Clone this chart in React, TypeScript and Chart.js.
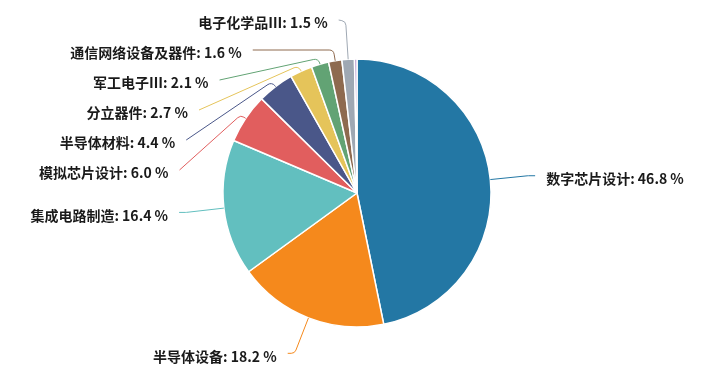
import React, { useEffect, useRef } from 'react';
import { Chart, registerables } from 'chart.js';

Chart.register(...registerables);

// ---- data ----
const categories = [
  '数字芯片设计',
  '半导体设备',
  '集成电路制造',
  '模拟芯片设计',
  '半导体材料',
  '分立器件',
  '军工电子Ⅲ',
  '通信网络设备及器件',
  '电子化学品Ⅲ',
  '其他',
];
const shares = [46.8, 18.2, 16.4, 6.0, 4.4, 2.7, 2.1, 1.6, 1.5, 0.3];
const showLabel = [true, true, true, true, true, true, true, true, true, false];
const colors = [
  '#2377a4',
  '#f5891c',
  '#62bfbf',
  '#e15e5e',
  '#4a5789',
  '#e5c45a',
  '#62a374',
  '#8e6a4f',
  '#9fa8b3',
  '#b594cd',
];

// ---- label layout params ----
const LEN = 38;
const LEN2 = 7;
const MIN_LEN = 6;
const GAP = 11;
const SPACING = 30;
const TOP_Y = 20;
const BOTTOM_Y = 360;
const FONT = 'bold 14px "Noto Sans CJK SC", "Noto Sans", sans-serif';

type Item = {
  i: number;
  cx: number;
  cy: number;
  r: number;
  cos: number;
  sin: number;
  side: number;
  natY: number;
  labelY: number;
  p2x: number;
};

function spread(list: Item[]) {
  list.sort((a, b) => a.natY - b.natY);
  type Cl = { items: Item[]; sum: number; top: number };
  const place = (c: Cl) => {
    const n = c.items.length;
    let top = c.sum / n - ((n - 1) * SPACING) / 2;
    top = Math.min(top, BOTTOM_Y - (n - 1) * SPACING);
    top = Math.max(top, TOP_Y);
    c.top = top;
  };
  const clusters: Cl[] = list.map((it) => ({ items: [it], sum: it.natY, top: 0 }));
  clusters.forEach(place);
  let merged = true;
  while (merged) {
    merged = false;
    for (let k = 0; k < clusters.length - 1; k++) {
      const a = clusters[k];
      const b = clusters[k + 1];
      const aBottom = a.top + (a.items.length - 1) * SPACING;
      if (b.top - aBottom < SPACING) {
        a.items.push(...b.items);
        a.sum += b.sum;
        place(a);
        clusters.splice(k + 1, 1);
        merged = true;
        break;
      }
    }
  }
  clusters.forEach((c) => c.items.forEach((it, j) => (it.labelY = c.top + j * SPACING)));
}

const labelPlugin = {
  id: 'pieOutsideLabels',
  afterDatasetsDraw(chart: any) {
    const ctx = chart.ctx as CanvasRenderingContext2D;
    const meta = chart.getDatasetMeta(0);
    const total = shares.reduce((s, v) => s + v, 0);
    const items: Item[] = [];
    meta.data.forEach((arc: any, i: number) => {
      if (!showLabel[i]) return;
      const p = arc.getProps(['x', 'y', 'startAngle', 'endAngle', 'outerRadius'], true);
      const mid = (p.startAngle + p.endAngle) / 2;
      const cos = Math.cos(mid);
      const sin = Math.sin(mid);
      items.push({
        i,
        cx: p.x,
        cy: p.y,
        r: p.outerRadius,
        cos,
        sin,
        side: cos >= 0 ? 1 : -1,
        natY: p.y + (p.outerRadius + LEN) * sin,
        labelY: 0,
        p2x: 0,
      });
    });

    for (const side of [-1, 1]) {
      const sideItems = items.filter((it) => it.side === side);
      if (!sideItems.length) continue;
      spread(sideItems);
      const cy = sideItems[0].cy;
      const cx = sideItems[0].cx;
      const rA = sideItems[0].r + LEN;
      for (const top of [true, false]) {
        const list = sideItems.filter((it) => (top ? it.labelY <= cy : it.labelY > cy));
        if (!list.length) continue;
        const far = list.reduce((a, b) => (Math.abs(b.labelY - cy) > Math.abs(a.labelY - cy) ? b : a));
        const dyF = Math.abs(far.labelY - cy);
        const dxF = Math.abs(far.cos) * rA;
        let rB = dxF < rA ? dyF / Math.sqrt(1 - (dxF * dxF) / (rA * rA)) : rA;
        if (!(rB > 1)) rB = rA;
        list.forEach((it) => {
          const dy = Math.abs(it.labelY - cy);
          const dx = rA * Math.sqrt(Math.max(0, 1 - (dy * dy) / (rB * rB)));
          it.p2x = cx + side * (dx + LEN2);
        });
      }
    }

    ctx.save();
    ctx.font = FONT;
    ctx.textBaseline = 'middle';
    items.forEach((it) => {
      const p0x = it.cx + it.r * it.cos;
      const p0y = it.cy + it.r * it.sin;
      let d = LEN;
      if (Math.abs(it.sin) > 1e-3) {
        const need = (it.labelY - p0y) / it.sin;
        d = need <= 0 ? MIN_LEN : Math.max(MIN_LEN, Math.min(LEN, need));
      }
      const p1x = it.cx + (it.r + d) * it.cos;
      const p1y = it.cy + (it.r + d) * it.sin;
      ctx.strokeStyle = colors[it.i];
      ctx.lineWidth = 1;
      ctx.beginPath();
      ctx.moveTo(p0x, p0y);
      ctx.arcTo(p1x, p1y, it.p2x, it.labelY, 5);
      ctx.lineTo(it.p2x, it.labelY);
      ctx.stroke();

      const pct = ((shares[it.i] / total) * 100).toFixed(1);
      ctx.fillStyle = '#1a1a1a';
      ctx.textAlign = it.side < 0 ? 'right' : 'left';
      ctx.fillText(`${categories[it.i]}: ${pct} %`, it.p2x + it.side * GAP, it.labelY + 3);
    });
    ctx.restore();
  },
};

export default function App() {
  const ref = useRef<HTMLCanvasElement | null>(null);
  useEffect(() => {
    document.body.style.margin = '0';
    const canvas = ref.current!;
    const chart = new Chart(canvas, {
      type: 'pie',
      data: {
        labels: categories,
        datasets: [
          {
            data: shares,
            backgroundColor: colors,
            borderColor: '#ffffff',
            borderWidth: 1.5,
            radius: 134,
          } as any,
        ],
      },
      options: {
        animation: false,
        responsive: false,
        events: [],
        layout: { padding: { left: 0, right: 10, top: 6, bottom: 0 } },
        plugins: {
          legend: { display: false },
          tooltip: { enabled: false },
        },
      },
      plugins: [labelPlugin],
    });
    return () => chart.destroy();
  }, []);
  return (
    <div style={{ width: 724, height: 380, background: '#ffffff' }}>
      <canvas ref={ref} width={724} height={380} style={{ display: 'block' }} />
    </div>
  );
}
